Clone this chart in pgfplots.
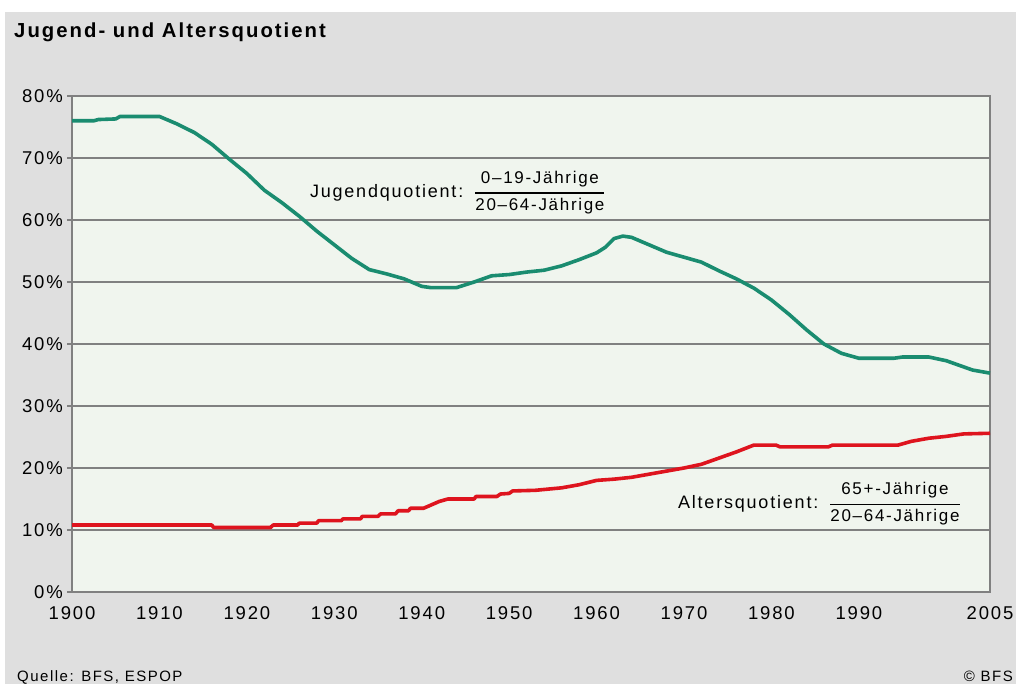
\documentclass[border=0pt]{standalone}
\usepackage{fontspec}
\setmainfont{Liberation Sans}[LetterSpace=10]
\usepackage{pgfplots}
\pgfplotsset{compat=1.18}
\definecolor{bg}{RGB}{223,223,223}
\definecolor{plotbg}{RGB}{240,245,238}
\definecolor{gridc}{RGB}{128,128,128}
\definecolor{jug}{RGB}{26,140,112}
\definecolor{alt}{RGB}{222,20,30}
\setlength{\arrayrulewidth}{1.3pt}
\newcommand{\fr}[2]{\hspace{3pt}\begingroup\renewcommand{\arraystretch}{1.05}\begin{tabular}{@{}c@{}}\fontsize{17}{19}\selectfont #1\\[3pt]\hline\fontsize{17}{19}\selectfont\rule{0pt}{17pt}#2\end{tabular}\endgroup}
\begin{document}
\begin{tikzpicture}
\fill[white] (0,0) rectangle (1016pt,684pt);
\fill[bg] (5pt,0) rectangle (1016pt,672pt);
\useasboundingbox (0,0) rectangle (1016pt,684pt);
\node[anchor=base west, font=\fontsize{20.3}{23}\selectfont\bfseries, inner sep=0] at (14pt,646pt) {Jugend- und Altersquotient};
\node[anchor=base west, font=\fontsize{15}{18}\selectfont, inner sep=0] at (17pt,2pt) {Quelle: BFS, ESPOP};
\node[anchor=base east, font=\fontsize{15}{18}\selectfont, inner sep=0] at (1013pt,2pt) {© BFS};
\begin{axis}[
  at={(72pt,92pt)}, anchor=south west,
  scale only axis, width=918pt, height=496pt,
  xmin=1900, xmax=2005, ymin=0, ymax=80,
  axis background/.style={fill=plotbg},
  xtick={1900,1910,1920,1930,1940,1950,1960,1970,1980,1990,2005},
  xticklabels={1900,1910,1920,1930,1940,1950,1960,1970,1980,1990,2005},
  ytick={0,10,20,30,40,50,60,70,80},
  yticklabels={0\%,10\%,20\%,30\%,40\%,50\%,60\%,70\%,80\%},
  ymajorgrids,
  grid style={gridc, line width=1.5pt},
  axis line style={gridc, line width=1.8pt},
  tick style={gridc, line width=1.2pt},
  major tick length=5pt,
  tick align=outside,
  ytick pos=left,
  xtick pos=bottom,
  x tick style={draw=none},
  tick label style={font=\fontsize{18.5}{20}\selectfont},
  yticklabel style={inner sep=0pt, xshift=-4pt},
  xticklabel style={inner sep=0pt, anchor=north, yshift=-9pt},
  clip=false,
]
\addplot[jug, line width=3.6pt, line join=round] coordinates {
(1900,76.0)(1902.5,76.0)(1903,76.2)(1905,76.3)(1905.5,76.7)(1910,76.7)(1912,75.5)(1914,74.1)(1916,72.2)(1918,69.8)(1920,67.5)(1922,64.8)(1924,62.8)(1926,60.6)(1928,58.2)(1930,56.0)(1932,53.8)(1934,52.0)(1936,51.3)(1938,50.5)(1940,49.3)(1941,49.1)(1944,49.1)(1946,50.0)(1948,51.0)(1950,51.2)(1952,51.6)(1954,51.9)(1956,52.6)(1958,53.6)(1960,54.7)(1961,55.6)(1962,57.0)(1963,57.4)(1964,57.2)(1966,56.0)(1968,54.8)(1970,54.0)(1972,53.2)(1974,51.8)(1976,50.5)(1978,49.0)(1980,47.1)(1982,44.8)(1984,42.3)(1986,40.0)(1988,38.5)(1990,37.7)(1994,37.7)(1995,37.9)(1998,37.9)(2000,37.3)(2002,36.3)(2003,35.8)(2005,35.3)
};
\addplot[alt, line width=3.6pt, line join=round] coordinates {
(1900,10.8)(1916,10.8)(1916.2,10.4)(1922.7,10.4)(1923,10.8)(1925.8,10.8)(1926,11.1)(1928,11.1)(1928.2,11.5)(1930.8,11.5)(1931,11.8)(1933,11.8)(1933.2,12.2)(1935,12.2)(1935.3,12.6)(1937,12.6)(1937.3,13.1)(1938.5,13.1)(1938.7,13.5)(1940.2,13.5)(1942,14.6)(1943,15.0)(1946,15.0)(1946.2,15.4)(1948.6,15.4)(1949,15.8)(1950,15.9)(1950.4,16.3)(1953,16.4)(1956,16.8)(1958,17.3)(1960,18.0)(1962,18.2)(1964,18.5)(1966,19.0)(1968,19.5)(1970,20.0)(1972,20.6)(1974,21.6)(1976,22.6)(1978,23.7)(1980.5,23.7)(1981,23.4)(1986.5,23.4)(1987,23.7)(1994.5,23.7)(1996,24.3)(1998,24.8)(2000,25.1)(2002,25.5)(2005,25.6)
};
\node[anchor=base west, inner sep=0, font=\fontsize{18}{20}\selectfont] at (axis cs:1927.2,63.7)
  {Jugendquotient: \fr{0–19-Jährige}{20–64-Jährige}};
\node[anchor=base west, inner sep=0, font=\fontsize{18}{20}\selectfont] at (axis cs:1969.3,13.5)
  {Altersquotient: \fr{65+-Jährige}{20–64-Jährige}};
\end{axis}
\end{tikzpicture}
\end{document}
